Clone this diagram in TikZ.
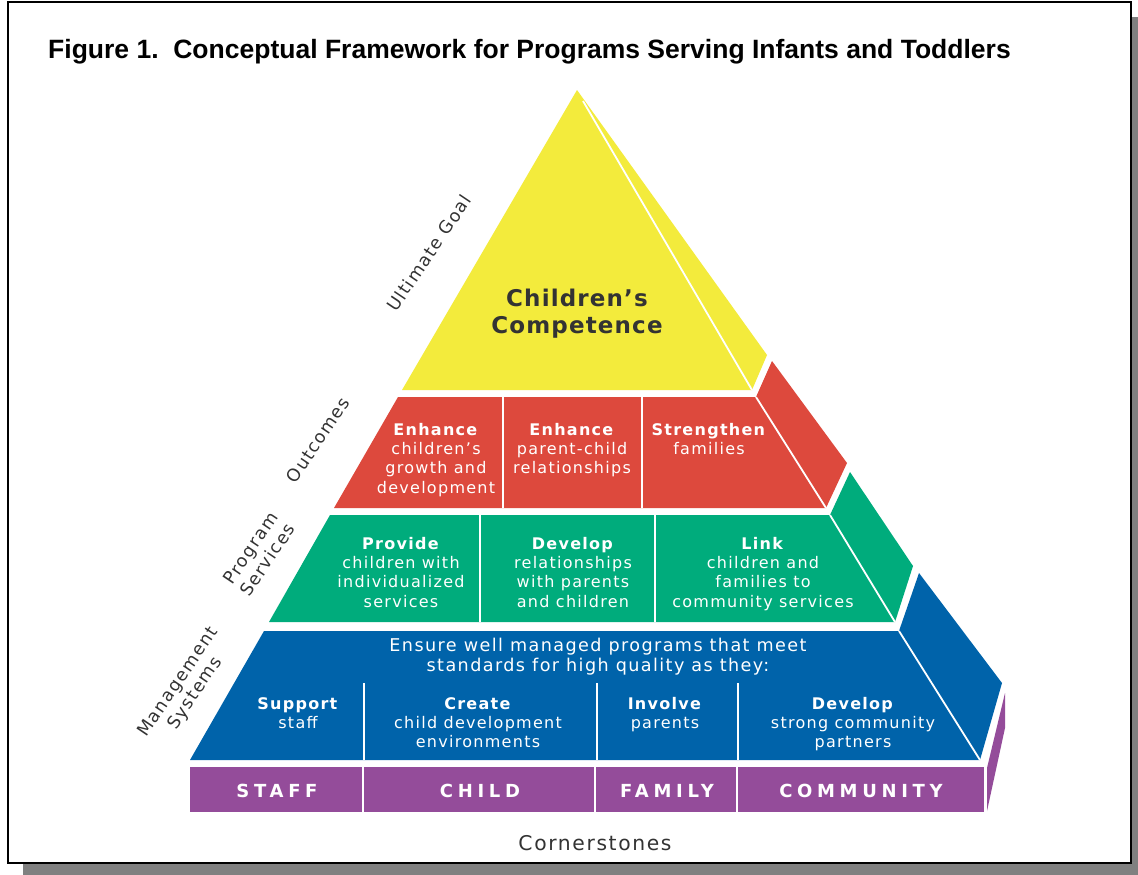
\documentclass[tikz,border=0pt]{standalone}
\usepackage{fontspec}
\setmainfont{DejaVu Sans}
\newfontfamily\vf[LetterSpace=8]{DejaVu Sans}
\newfontfamily\gf[LetterSpace=5]{DejaVu Sans}
\newfontfamily\cf[LetterSpace=26]{DejaVu Sans}
\newfontfamily\tf{Liberation Sans}
\definecolor{pyel}{RGB}{243,235,60}
\definecolor{pred}{RGB}{221,73,61}
\definecolor{pgreen}{RGB}{0,172,124}
\definecolor{pblue}{RGB}{0,99,170}
\definecolor{ppurple}{RGB}{148,76,154}
\definecolor{dark}{RGB}{51,51,51}
\definecolor{shadowgray}{RGB}{128,128,128}
\begin{document}
\begin{tikzpicture}[x=1pt,y=-1pt,
  band/.style={text=white, align=center, inner sep=0pt, anchor=north, font=\vf\fontsize{16}{19.3}\selectfont},
  caps/.style={text=white, inner sep=0pt, anchor=center, font=\cf\bfseries\fontsize{18}{20}\selectfont},
  lab/.style={text=dark, align=center, inner sep=0pt, anchor=center, rotate=56, font=\vf\fontsize{17.5}{20.5}\selectfont},
  sepline/.style={white, line width=1.8pt},
]
\useasboundingbox (0,0) rectangle (1138,875);
% frame with shadow
\fill[shadowgray] (23,17) rectangle (1138,875);
\filldraw[fill=white, draw=black, line width=2pt] (8,2) rectangle (1131,863);

\node[anchor=base west, inner sep=0pt, font=\tf\bfseries\fontsize{26.5}{30}\selectfont] (title) at (48,59)
  {Figure 1.\ \ Conceptual Framework for Programs Serving Infants and Toddlers};

% yellow apex
\fill[pyel] (577,90) -- (767,355) -- (752,390) -- (402,390) -- cycle;
\draw[sepline] (583,101) -- (752,390);
\node[text=dark, align=center, inner sep=0pt, anchor=north, font=\gf\bfseries\fontsize{23}{27}\selectfont] (goal) at (577,289)
  {Children’s\\Competence};

% red band
\fill[pred] (398,397) -- (756,397) -- (772,361) -- (847,463) -- (826,508) -- (334,508) -- cycle;
\draw[sepline] (756,397) -- (826,508);
\draw[sepline] (503,397) -- (503,508);
\draw[sepline] (642,397) -- (642,508);
\node[band] (o1) at (436,423) {\textbf{Enhance}\\children’s\\growth and\\development};
\node[band] (o2) at (572,423) {\textbf{Enhance}\\parent-child\\relationships};
\node[band] (o3) at (709,423) {\textbf{Strengthen}\\families};

% green band
\fill[pgreen] (330,515) -- (830,515) -- (850,472) -- (913,566) -- (895,622) -- (269,622) -- cycle;
\draw[sepline] (830,515) -- (895,622);
\draw[sepline] (480,515) -- (480,622);
\draw[sepline] (655,515) -- (655,622);
\node[band] (p1) at (401,537) {\textbf{Provide}\\children with\\individualized\\services};
\node[band] (p2) at (573,537) {\textbf{Develop}\\relationships\\with parents\\and children};
\node[band] (p3) at (763,537) {\textbf{Link}\\children and\\families to\\community services};

% blue band
\fill[pblue] (264,631) -- (899,631) -- (919,573) -- (1002,683) -- (980,760) -- (190,760) -- cycle;
\draw[sepline] (899,631) -- (980,760);
\draw[sepline] (364,683) -- (364,760);
\draw[sepline] (597,683) -- (597,760);
\draw[sepline] (738,683) -- (738,760);
\node[band, font=\vf\fontsize{17.6}{20}\selectfont] (mtop) at (598,638) {Ensure well managed programs that meet\\standards for high quality as they:};
\node[band] (m1) at (298,697) {\textbf{Support}\\staff};
\node[band] (m2) at (478,697) {\textbf{Create}\\child development\\environments};
\node[band] (m3) at (665,697) {\textbf{Involve}\\parents};
\node[band] (m4) at (853,697) {\textbf{Develop}\\strong community\\partners};

% purple cornerstones
\fill[ppurple] (190,767) rectangle (984,812);
\fill[ppurple] (987,768) -- (1005,693) -- (1005,728) -- (987,811) -- cycle;
\draw[sepline] (363,767) -- (363,812);
\draw[sepline] (595,767) -- (595,812);
\draw[sepline] (737,767) -- (737,812);
\node[caps] (c1) at (277,791) {STAFF};
\node[caps] (c2) at (480,791) {CHILD};
\node[caps] (c3) at (667,791) {FAMILY};
\node[caps] (c4) at (861,791) {COMMUNITY};

% side labels
\node[lab] (l1) at (429,253) {Ultimate Goal};
\node[lab] (l2) at (318,440) {Outcomes};
\node[lab] (l3) at (259,554) {Program\\Services};
\node[lab] (l4) at (187,688) {Management\\Systems};
\node[text=dark, inner sep=0pt, anchor=center, font=\vf\fontsize{20.3}{23}\selectfont] (corner) at (595,843) {Cornerstones};
\end{tikzpicture}
\end{document}
